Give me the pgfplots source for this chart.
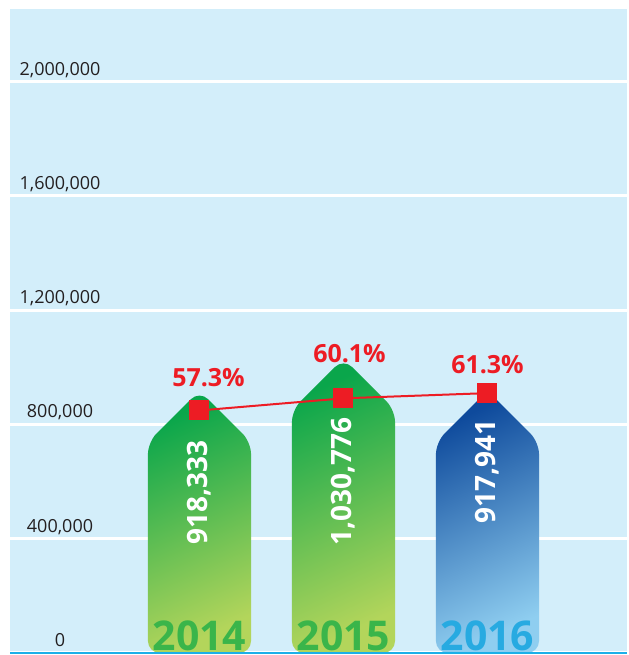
\documentclass[border=0pt]{standalone}
\usepackage{pgfplots}
\pgfplotsset{compat=1.18}
\usepackage{fontspec}
\setmainfont{Open Sans}
\definecolor{bg}{HTML}{D3EEFA}
\definecolor{txt}{HTML}{231F20}
\definecolor{g1}{HTML}{0AA64B}
\definecolor{g2}{HTML}{5CB947}
\definecolor{g3}{HTML}{B3D55B}
\definecolor{b1}{HTML}{0E4A9C}
\definecolor{b2}{HTML}{6FA5DA}
\definecolor{b3}{HTML}{8FCEF0}
\definecolor{yg}{HTML}{3AB54A}
\definecolor{yb}{HTML}{27AAE1}
\definecolor{red1}{HTML}{ED1C24}
\definecolor{lineblue}{HTML}{1CB0E8}
\begin{document}
\begin{tikzpicture}
\begin{axis}[
  set layers,
  at={(0pt,0pt)}, anchor=south west,
  scale only axis, width=617pt, height=644pt,
  xmin=-1.316, xmax=2.969, ymin=0, ymax=2254000,
  axis background/.style={fill=bg},
  axis line style={draw=none},
  xtick=\empty,
  ytick={0,400000,800000,1200000,1600000,2000000},
  scaled y ticks=false,
  /pgf/number format/fixed,
  /pgf/number format/1000 sep={,},
  /pgf/number format/assume math mode=true,
  yticklabel style={anchor=base, xshift=50pt, yshift=6.5pt, font=\fontsize{18}{20}\selectfont, text=txt},
  major tick length=0pt,
  ymajorgrids, grid style={white, line width=3pt},
]
% bars
\addplot[draw=none, rounded corners=12pt, top color=g1, middle color=g2, bottom color=g3, shading angle=25]
  coordinates {(-0.358,0) (-0.358,738333) (0,918333) (0.358,738333) (0.358,0)} -- cycle;
\addplot[draw=none, rounded corners=12pt, top color=g1, middle color=g2, bottom color=g3, shading angle=25]
  coordinates {(0.642,0) (0.642,850776) (1,1030776) (1.358,850776) (1.358,0)} -- cycle;
\addplot[draw=none, rounded corners=12pt, top color=b1, middle color=b2, bottom color=b3, shading angle=25]
  coordinates {(1.642,0) (1.642,737941) (2,917941) (2.358,737941) (2.358,0)} -- cycle;
% value labels
\node[rotate=90, text=white, font=\bfseries\fontsize{28}{28}\selectfont] at (axis cs:0,561000) {918,333};
\node[rotate=90, text=white, font=\bfseries\fontsize{28}{28}\selectfont] at (axis cs:1,600000) {1,030,776};
\node[rotate=90, text=white, font=\bfseries\fontsize{28}{28}\selectfont] at (axis cs:2,635000) {917,941};
% year labels
\node[anchor=base, inner sep=0pt, yshift=2pt, text=yg, font=\bfseries\fontsize{41}{41}\selectfont] at (axis cs:0,0) {2014};
\node[anchor=base, inner sep=0pt, yshift=2pt, text=yg, font=\bfseries\fontsize{41}{41}\selectfont] at (axis cs:1,0) {2015};
\node[anchor=base, inner sep=0pt, yshift=2pt, text=yb, font=\bfseries\fontsize{41}{41}\selectfont] at (axis cs:2,0) {2016};
\end{axis}
\draw[lineblue, line width=2pt] (0pt,0pt) -- (617pt,0pt);
\begin{axis}[
  at={(0pt,0pt)}, anchor=south west,
  scale only axis, width=617pt, height=644pt,
  xmin=-1.316, xmax=2.969, ymin=1.36, ymax=149.9,
  hide axis, clip=false,
]
\addplot[color=red1, line width=2pt, mark=square*, mark size=9.5pt, mark options={solid, fill=red1, draw=red1, line width=0pt}]
  coordinates {(0,57.3) (1,60.1) (2,61.3)};
\node[text=red1, font=\bfseries\fontsize{25}{25}\selectfont, xshift=9pt, yshift=33pt] at (axis cs:0,57.3) {57.3\%};
\node[text=red1, font=\bfseries\fontsize{25}{25}\selectfont, xshift=6pt, yshift=45pt] at (axis cs:1,60.1) {60.1\%};
\node[text=red1, font=\bfseries\fontsize{25}{25}\selectfont, xshift=0pt, yshift=29pt] at (axis cs:2,61.3) {61.3\%};
\end{axis}
\path (-10pt,-2pt) rectangle (617pt,653pt);
\end{tikzpicture}
\end{document}
